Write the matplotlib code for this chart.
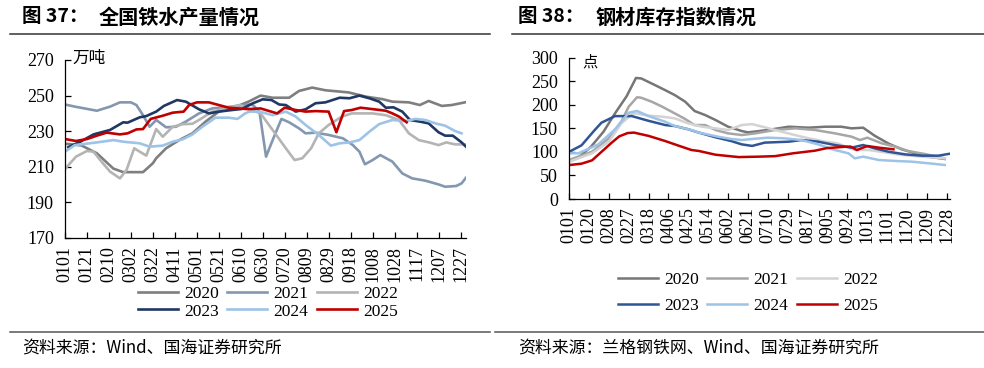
import matplotlib
matplotlib.use("Agg")
import matplotlib.pyplot as plt
from matplotlib.lines import Line2D

plt.rcParams["font.family"] = ["Liberation Serif", "Noto Sans CJK SC"]
plt.rcParams["axes.linewidth"] = 0.9
CJK = ["Noto Sans CJK SC", "DejaVu Sans"]

years = ["2020", "2021", "2022", "2023", "2024", "2025"]

# ---- figure 37: national hot metal output (10k tonnes), x = day of year
iron_ticks = ["0101", "0121", "0210", "0302", "0322", "0411", "0501", "0521", "0610",
              "0630", "0720", "0809", "0829", "0918", "1008", "1028", "1117", "1207", "1227"]

iron_2020_days = [0, 15, 29, 44, 53, 71, 80, 83, 92, 104, 116, 128, 140, 152, 167, 178,
                  189, 204, 213, 225, 237, 258, 274, 289, 298, 313, 323, 331, 343, 352, 364]
iron_2020 = [223, 222, 217.6, 209, 207, 207, 212, 214.8, 220.4, 225, 228.8, 235.4, 241,
             242.8, 246.6, 250, 248.8, 248.8, 252.6, 254.5, 253, 251.8, 249.4, 248, 246.6,
             246.2, 244.7, 247, 244.2, 244.7, 246.2]

iron_2021_days = [0, 9, 29, 41, 50, 60, 65, 71, 77, 83, 92, 101, 110, 122, 134, 152, 167,
                  171, 177, 183, 189, 197, 204, 213, 219, 228, 240, 253, 262, 268, 273,
                  280, 287, 298, 307, 316, 328, 340, 346, 356, 361, 365]
iron_2021 = [245, 243.8, 241.5, 243.8, 246.2, 246.2, 244.7, 239, 232.5, 236.3, 232.2,
             232.5, 235.4, 240, 242.8, 243.8, 245, 244.7, 241, 215.7, 225, 236.9, 235,
             231.6, 228.8, 229.2, 227.9, 226, 222.2, 218.5, 211.4, 213.8, 216.6, 212.9,
             206.3, 203.5, 202.2, 200.1, 198.8, 199.2, 200.7, 203.9]

iron_2022_days = [0, 10, 20, 26, 32, 41, 50, 56, 63, 68, 74, 83, 89, 98, 107, 116, 122,
                  134, 152, 159, 178, 189, 201, 209, 216, 224, 231, 240, 252, 261, 280,
                  292, 304, 313, 322, 332, 340, 347, 355, 365]
iron_2022 = [208.8, 215.7, 218.9, 218.5, 213.8, 207.3, 203.5, 208.2, 220.4, 218.5, 216.3,
             231.2, 226.9, 232.5, 233.9, 234.2, 236.3, 241, 243.8, 244.7, 240, 230.7,
             220.4, 213.8, 214.8, 220.4, 228.8, 233.5, 238.2, 240, 240, 239, 236.3,
             228.8, 225, 223.6, 222.2, 223.7, 222.6, 222.6]

iron_2023_days = [3, 14, 26, 41, 53, 57, 68, 74, 83, 90, 102, 110, 122, 131, 140, 152,
                  161, 171, 180, 188, 195, 201, 210, 219, 228, 237, 250, 259, 268, 277,
                  286, 292, 299, 307, 314, 323, 331, 340, 346, 353, 361, 365]
iron_2023 = [221, 224.1, 228.2, 230.7, 235, 234.8, 237.8, 238.5, 241, 244.2, 247.5, 246.6,
             242.3, 240, 241, 241.9, 242.5, 245.7, 247.9, 247.5, 245, 244.7, 241, 242.3,
             245.7, 246.2, 248.8, 248.5, 250, 248.5, 246.6, 243.2, 243.4, 241, 236.3,
             235.4, 234.4, 229.4, 227.5, 227.5, 223.7, 221.3]

iron_2024_days = [0, 9, 29, 44, 53, 68, 77, 89, 98, 107, 116, 125, 137, 149, 157, 164,
                  168, 177, 189, 201, 210, 219, 231, 242, 250, 259, 268, 277, 286, 298,
                  310, 319, 328, 337, 346, 355, 361]
iron_2024 = [218.5, 222.2, 223.7, 225, 224.1, 223.2, 221.3, 221.9, 224.1, 225.4, 228.2,
             232.5, 237.6, 237.6, 236.9, 240, 241, 241, 239, 241, 238.2, 233.5, 227.9,
             221.9, 223.2, 223.7, 225, 229.7, 234, 236.3, 235.7, 236.9, 236.3, 234.4,
             233.1, 230.1, 228.8]

iron_2025_days = [0, 10, 20, 29, 38, 50, 57, 65, 71, 78, 89, 98, 108, 113, 120, 131, 140,
                  149, 167, 178, 193, 200, 210, 219, 228, 240, 247, 254, 261, 269, 280,
                  292, 298, 304, 311]
iron_2025 = [225.6, 224.5, 225.6, 227.5, 229.2, 228.2, 228.8, 231, 231.2, 236.9, 238.7,
             240.4, 241, 244.7, 246.2, 246.2, 244.7, 243.2, 242.4, 242.8, 240, 243.2,
             241.9, 241, 241.3, 241, 229.4, 241.3, 241.9, 243.2, 242.4, 241.5, 240,
             238.2, 235]

# ---- figure 38: steel inventory index, x = day of year
stock_ticks = ["0101", "0120", "0208", "0227", "0318", "0406", "0425", "0514", "0602", "0621",
               "0710", "0729", "0817", "0905", "0924", "1013", "1101", "1120", "1209", "1228"]

stock_2020_days = [0, 10, 21, 33, 44, 55, 64, 69, 82, 92, 101, 111, 120, 130, 140, 152,
                   165, 171, 190, 210, 229, 245, 260, 270, 281, 292, 305, 318, 331, 343, 359]
stock_2020 = [79, 90, 111, 143, 182, 218, 257, 256, 242, 231, 220.7, 206.6, 186.8, 178.3,
              167.7, 153.5, 144.3, 141.5, 146.5, 153.5, 151.4, 153.5, 153.5, 150, 151.4,
              134.4, 118, 105.4, 97, 90, 85]

stock_2021_days = [0, 22, 38, 50, 57, 65, 69, 79, 89, 101, 111, 120, 130, 140, 152, 165,
                   178, 197, 216, 235, 254, 270, 278, 285, 299, 312, 324, 340, 359]
stock_2021 = [82.8, 100.5, 128.8, 164, 196, 216, 215, 206.6, 196, 181.8, 169.8, 157, 157,
              146.5, 139.4, 135.8, 139.4, 146.5, 150, 146.5, 139.4, 132.3, 125.2, 130.2,
              118, 111, 101.9, 95.5, 86.3]

stock_2022_days = [0, 22, 38, 50, 60, 63, 76, 89, 101, 114, 127, 140, 152, 165, 175, 182,
                   197, 213, 229, 245, 256, 273, 286, 302, 318, 337, 359]
stock_2022 = [79, 97, 121.7, 160.6, 179.6, 181.8, 177, 174.8, 171.2, 160.6, 153.5, 150,
              146.5, 157, 159, 155, 146.5, 137.3, 128.8, 121.7, 118.4, 104, 104, 99,
              93.4, 90, 86.3]

stock_2023_days = [0, 12, 24, 31, 44, 60, 76, 92, 101, 114, 124, 140, 155, 165, 175, 187,
                   210, 222, 238, 254, 270, 281, 292, 305, 321, 337, 353, 364]
stock_2023 = [100, 114, 145, 162, 176, 176, 166, 157, 155, 148, 141, 131, 123, 116, 112.7,
              119.7, 121.7, 125.2, 121.7, 114.6, 109, 114.6, 107.5, 100.5, 94.8, 92, 92,
              96.2]

stock_2024_days = [0, 9, 28, 44, 57, 65, 76, 92, 101, 117, 124, 143, 155, 165, 175, 190,
                   206, 222, 238, 254, 267, 273, 281, 296, 312, 328, 344, 359]
stock_2024 = [97, 97, 116, 148, 183, 187, 176, 164, 155, 146.5, 141, 132, 127.4, 125.2,
              127.4, 130.2, 128.8, 125.2, 116, 104, 97, 86.3, 89.9, 82.8, 80.7, 79.2, 75.7,
              72.2]

stock_2025_days = [0, 12, 22, 31, 41, 48, 56, 62, 76, 92, 105, 117, 124, 140, 162, 183,
                   197, 214, 235, 246, 264, 269, 275, 285, 296, 310]
stock_2025 = [72, 75, 82, 100, 120, 133, 140, 141, 134, 123, 113, 104, 102, 94, 89, 90,
              91, 97, 102.6, 107.9, 111, 111.3, 104, 112.5, 109, 105.5]

iron_colors = ["#7f7f7f", "#8497b0", "#b4b4b4", "#1f3864", "#9dc3e6", "#c00000"]
stock_colors = ["#767676", "#a6a6a6", "#d3d3d3", "#2f5597", "#9dc3e6", "#c00000"]

iron_series = [(iron_2020_days, iron_2020), (iron_2021_days, iron_2021),
               (iron_2022_days, iron_2022), (iron_2023_days, iron_2023),
               (iron_2024_days, iron_2024), (iron_2025_days, iron_2025)]
stock_series = [(stock_2020_days, stock_2020), (stock_2021_days, stock_2021),
                (stock_2022_days, stock_2022), (stock_2023_days, stock_2023),
                (stock_2024_days, stock_2024), (stock_2025_days, stock_2025)]

W, H = 984, 368
fig = plt.figure(figsize=(W / 100, H / 100), dpi=100)


def fx(px):
    return px / W


def fy(py):
    return 1 - py / H


def style_axis(ax, tick_days, tick_labels, pad_x):
    for side in ("top", "right"):
        ax.spines[side].set_visible(False)
    ax.set_xticks(tick_days)
    ax.set_xticklabels(tick_labels, rotation=90)
    ax.tick_params(axis="x", direction="in", length=4, width=0.9, labelsize=13, pad=pad_x)
    ax.tick_params(axis="y", direction="in", length=4, width=0.9, labelsize=13, pad=8)


# left chart
ax0 = fig.add_axes([fx(65), fy(238), fx(401), (238 - 60) / H])
lines0 = []
for (d, v), c, y in zip(iron_series, iron_colors, years):
    (ln,) = ax0.plot(d, v, color=c, lw=1.9, label=y, solid_joinstyle="round")
    lines0.append(ln)
ax0.set_xlim(0, 365)
ax0.set_ylim(170, 270)
ax0.set_yticks(range(170, 271, 20))
style_axis(ax0, range(0, 361, 20), iron_ticks, 6)
fig.text(fx(72), fy(58), "万吨", family=CJK, fontsize=12, va="center")

# right chart
ax1 = fig.add_axes([fx(569), fy(199), fx(381), (199 - 57.7) / H])
lines1 = []
for (d, v), c, y in zip(stock_series, stock_colors, years):
    (ln,) = ax1.plot(d, v, color=c, lw=1.8, label=y, solid_joinstyle="round")
    lines1.append(ln)
ax1.set_xlim(0, 364)
ax1.set_ylim(0, 300)
ax1.set_yticks(range(0, 301, 50))
style_axis(ax1, range(0, 362, 19), stock_ticks, 6)
fig.text(fx(582), fy(62), "点", family=CJK, fontsize=11, va="center")

# legends, filled row by row
order = [0, 3, 1, 4, 2, 5]
leg_kw = dict(ncol=3, loc="center", frameon=False, fontsize=12.5, handlelength=2.3,
              handletextpad=0.35, columnspacing=0.5, borderpad=0)
fig.legend([lines0[i] for i in order], [years[i] for i in order],
           bbox_to_anchor=(fx(268), fy(302.5)), labelspacing=0.1, **leg_kw)
fig.legend([lines1[i] for i in order], [years[i] for i in order],
           bbox_to_anchor=(fx(748), fy(293)), labelspacing=0.6, **leg_kw)

# titles, rules and sources
fig.text(fx(22), fy(17), "图 37：", family=CJK, fontsize=14, weight="bold", va="center")
fig.text(fx(99), fy(17), "全国铁水产量情况", family=CJK, fontsize=14.5, weight="bold", va="center")
fig.text(fx(518), fy(17), "图 38：", family=CJK, fontsize=14, weight="bold", va="center")
fig.text(fx(596), fy(17), "钢材库存指数情况", family=CJK, fontsize=14.5, weight="bold", va="center")

for x0, x1 in ((10, 490), (512, 984)):
    fig.add_artist(Line2D([fx(x0), fx(x1)], [fy(34), fy(34)], color="#333333", lw=1.1))
for x0, x1 in ((10, 490), (495, 984)):
    fig.add_artist(Line2D([fx(x0), fx(x1)], [fy(332), fy(332)], color="#555555", lw=1.1))

fig.text(fx(22), fy(347), "资料来源：Wind、国海证券研究所", family=CJK, fontsize=12.2, va="center")
fig.text(fx(518), fy(347), "资料来源：兰格钢铁网、Wind、国海证券研究所", family=CJK, fontsize=12.2,
         va="center")

fig.savefig("out.png", dpi=100)
